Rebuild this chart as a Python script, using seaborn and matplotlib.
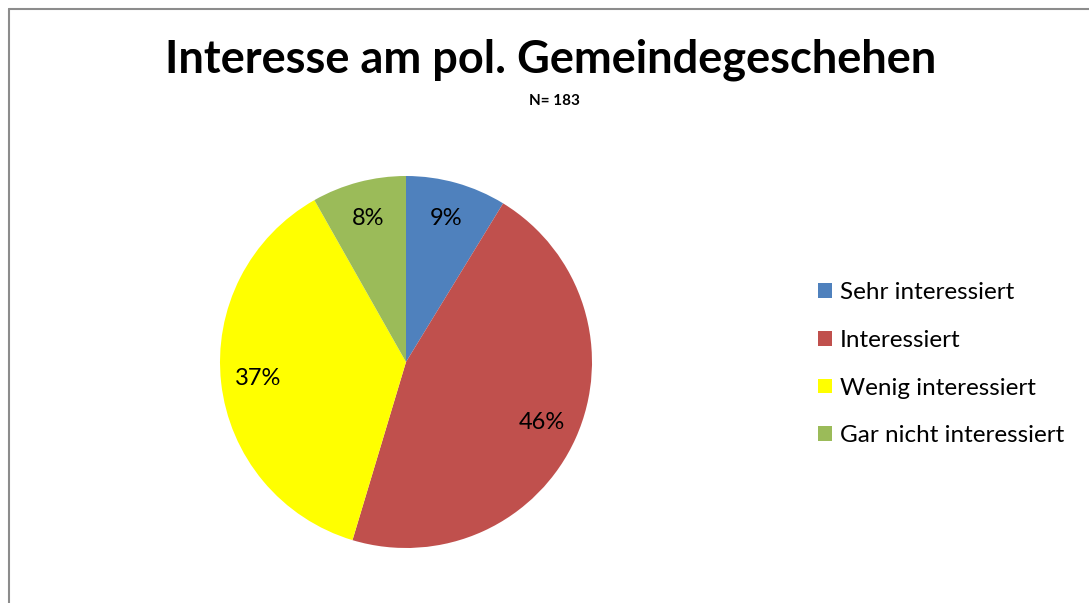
import seaborn as sns
import matplotlib.pyplot as plt
from matplotlib.patches import Patch
from matplotlib.lines import Line2D

# Interesse am pol. Gemeindegeschehen, N = 183
categories = ['Sehr interessiert', 'Interessiert', 'Wenig interessiert', 'Gar nicht interessiert']
counts = [16, 84, 68, 15]
colors = ['#4F81BD', '#C0504D', '#FFFF00', '#9BBB59']

sns.set_theme(style='white')
plt.rcParams['font.family'] = ['Lato', 'DejaVu Sans']
plt.rcParams['text.color'] = 'black'

W, H = 1089, 603
fig = plt.figure(figsize=(W / 100, H / 100), dpi=100)
fig.patch.set_facecolor('white')

# pie axes: centre (406, 362) px, radius 186 px
cx, cy, r = 406, 362, 186
ax = fig.add_axes([(cx - r) / W, (H - cy - r) / H, 2 * r / W, 2 * r / H])
pal = sns.color_palette(colors)
wedges, texts, autotexts = ax.pie(
    counts, colors=pal, startangle=90, counterclock=False,
    autopct=lambda p: f'{p:.0f}%', pctdistance=0.8,
    wedgeprops={'linewidth': 0, 'edgecolor': 'none'},
    textprops={'fontsize': 17, 'color': 'black'},
)
ax.set_xlim(-1, 1)
ax.set_ylim(-1, 1)
ax.set_aspect('equal')
ax.axis('off')

fig.text(551 / W, 1 - 60 / H, 'Interesse am pol. Gemeindegeschehen',
         ha='center', va='center', fontsize=32.5, fontweight='bold', color='black')
fig.text(554 / W, 1 - 101 / H, 'N= 183', ha='center', va='center',
         fontsize=11, fontweight='bold', color='black')

handles = [Patch(facecolor=c, edgecolor='none') for c in pal]
leg = fig.legend(handles, categories, loc='upper left',
                 bbox_to_anchor=(806 / W, 1 - 270 / H), frameon=False,
                 fontsize=17.5, handlelength=0.55, handleheight=0.55,
                 handletextpad=0.35, labelspacing=1.1, borderpad=0)
for t in leg.get_texts():
    t.set_color('black')

# chart border (left and top visible)
fig.add_artist(Line2D([8.5 / W, 8.5 / W], [0, 1 - 8.5 / H], color='#8c8c8c', lw=1.5))
fig.add_artist(Line2D([8.5 / W, 1], [1 - 8.5 / H, 1 - 8.5 / H], color='#8c8c8c', lw=1.5))

fig.savefig('out.png', dpi=100)
